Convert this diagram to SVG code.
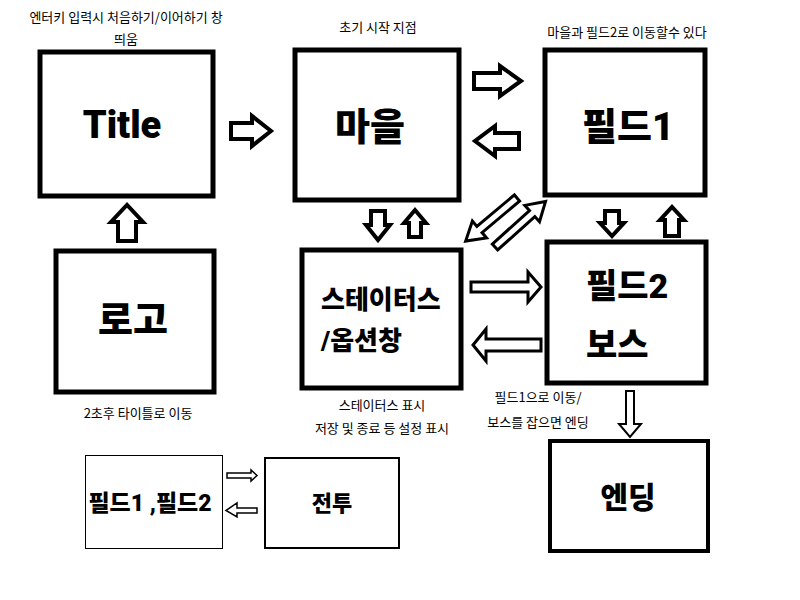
<svg xmlns="http://www.w3.org/2000/svg" width="800" height="600" viewBox="0 0 800 600">
<style>
.box{fill:#fff;stroke:#000;stroke-width:5}
.thin{fill:#fff;stroke:#000;stroke-width:1}
.mid{fill:#fff;stroke:#000;stroke-width:2}
.arr{fill:#fff;stroke:#000;stroke-width:4;stroke-linejoin:miter}
.arr3{fill:#fff;stroke:#000;stroke-width:3;stroke-linejoin:miter}
.arr2{fill:#fff;stroke:#000;stroke-width:2;stroke-linejoin:miter}
.arr1{fill:#fff;stroke:#000;stroke-width:1.5;stroke-linejoin:miter}
.lbl{font-family:"Noto Sans CJK KR","Noto Sans",sans-serif;font-size:13px;fill:#000;text-anchor:middle}
.big{font-family:"Roboto","Noto Sans CJK KR",sans-serif;font-weight:900;fill:#000}
.c{text-anchor:middle;dominant-baseline:central}
</style>
<rect width="800" height="600" fill="#fff"/>

<g id="title">
<rect class="box" x="40" y="52" width="173" height="144"/>
<text class="big c" x="122" y="125" font-size="38">Title</text>
<text class="lbl" x="126" y="22">엔터키 입력시 처음하기/이어하기 창</text>
<text class="lbl" x="126" y="44">띄움</text>
</g>

<g id="village">
<rect class="box" x="295" y="50" width="164" height="150"/>
<text class="big c" x="370" y="127" font-size="38">마을</text>
<text class="lbl" x="378" y="32">초기 시작 지점</text>
</g>

<g id="field1">
<rect class="box" x="545" y="50" width="160" height="145"/>
<text class="big c" x="628" y="127" font-size="38">필드1</text>
<text class="lbl" x="627" y="37">마을과 필드2로 이동할수 있다</text>
</g>

<g id="logo">
<rect class="box" x="56" y="251" width="158" height="141"/>
<text class="big c" x="133" y="320" font-size="38">로고</text>
<text class="lbl" x="138" y="418">2초후 타이틀로 이동</text>
</g>

<g id="status">
<rect class="box" x="302" y="250" width="159" height="138"/>
<text class="big" x="321" y="309" font-size="26">스테이터스</text>
<text class="big" x="321" y="350" font-size="26">/옵션창</text>
<text class="lbl" x="382" y="410">스테이터스 표시</text>
<text class="lbl" x="382" y="433">저장 및 종료 등 설정 표시</text>
</g>

<g id="field2">
<rect class="box" x="547" y="242" width="159" height="141"/>
<text class="big" x="586" y="298" font-size="34">필드2</text>
<text class="big" x="586" y="357" font-size="34">보스</text>
<text class="lbl" x="538" y="402">필드1으로 이동/</text>
<text class="lbl" x="538" y="427">보스를 잡으면 엔딩</text>
</g>

<g id="ending">
<rect class="box" x="550" y="441" width="158" height="110" style="stroke-width:4"/>
<text class="big c" x="628" y="497" font-size="30">엔딩</text>
</g>

<g id="fields">
<rect class="thin" x="85.5" y="455.5" width="137" height="93"/>
<text class="big c" x="150" y="503" font-size="23">필드1 ,필드2</text>
</g>

<g id="battle">
<rect class="mid" x="265" y="458" width="134" height="90"/>
<text class="big c" x="332" y="503" font-size="22">전투</text>
</g>

<g id="connectors">
<path class="arr" d="M231,123 H252 V116 L271,131 L252,146 V139 H231 Z"/>
<path class="arr" d="M474,73 H500 V66 L521,81 L500,96 V89 H474 Z"/>
<path class="arr" d="M519,133 H495 V126 L475,141 L495,156 V149 H519 Z"/>
<path class="arr" d="M118,241 V222 H111 L127,205 L143,222 H136 V241 Z"/>
<path class="arr" d="M371,211 H385 V225 H390 L378,240 L366,225 H371 Z"/>
<path class="arr" d="M409,237 V223 H404 L415,210 L426,223 H421 V237 Z"/>
<path class="arr" d="M605,211 H619 V223 H624 L612,236 L600,223 H605 Z"/>
<path class="arr" d="M665,236 V220 H660 L672,207 L684,220 H679 V236 Z"/>
<path class="arr3" d="M471,282 H528 V272 L541,287 L528,302 V292 H471 Z"/>
<path class="arr3" d="M541,339 H486 V329 L473,345 L486,361 V351 H541 Z"/>
<path class="arr3" d="M0,-4 H50 V-11 L68,0 L50,11 V4 H0 Z" transform="translate(495,247) rotate(-42)"/>
<path class="arr3" d="M0,-4 H49 V-11 L67,0 L49,11 V4 H0 Z" transform="translate(517,198) rotate(140)"/>
<path class="arr2" d="M626,391 H634 V424 H641 L630,437 L619,424 H626 Z"/>
<path class="arr1" d="M227,473 H251 V470 L257,475.5 L251,481 V478 H227 Z"/>
<path class="arr1" d="M257,508 H237 V503 L226,510.5 L237,517 V513 H257 Z"/>
</g>
</svg>
